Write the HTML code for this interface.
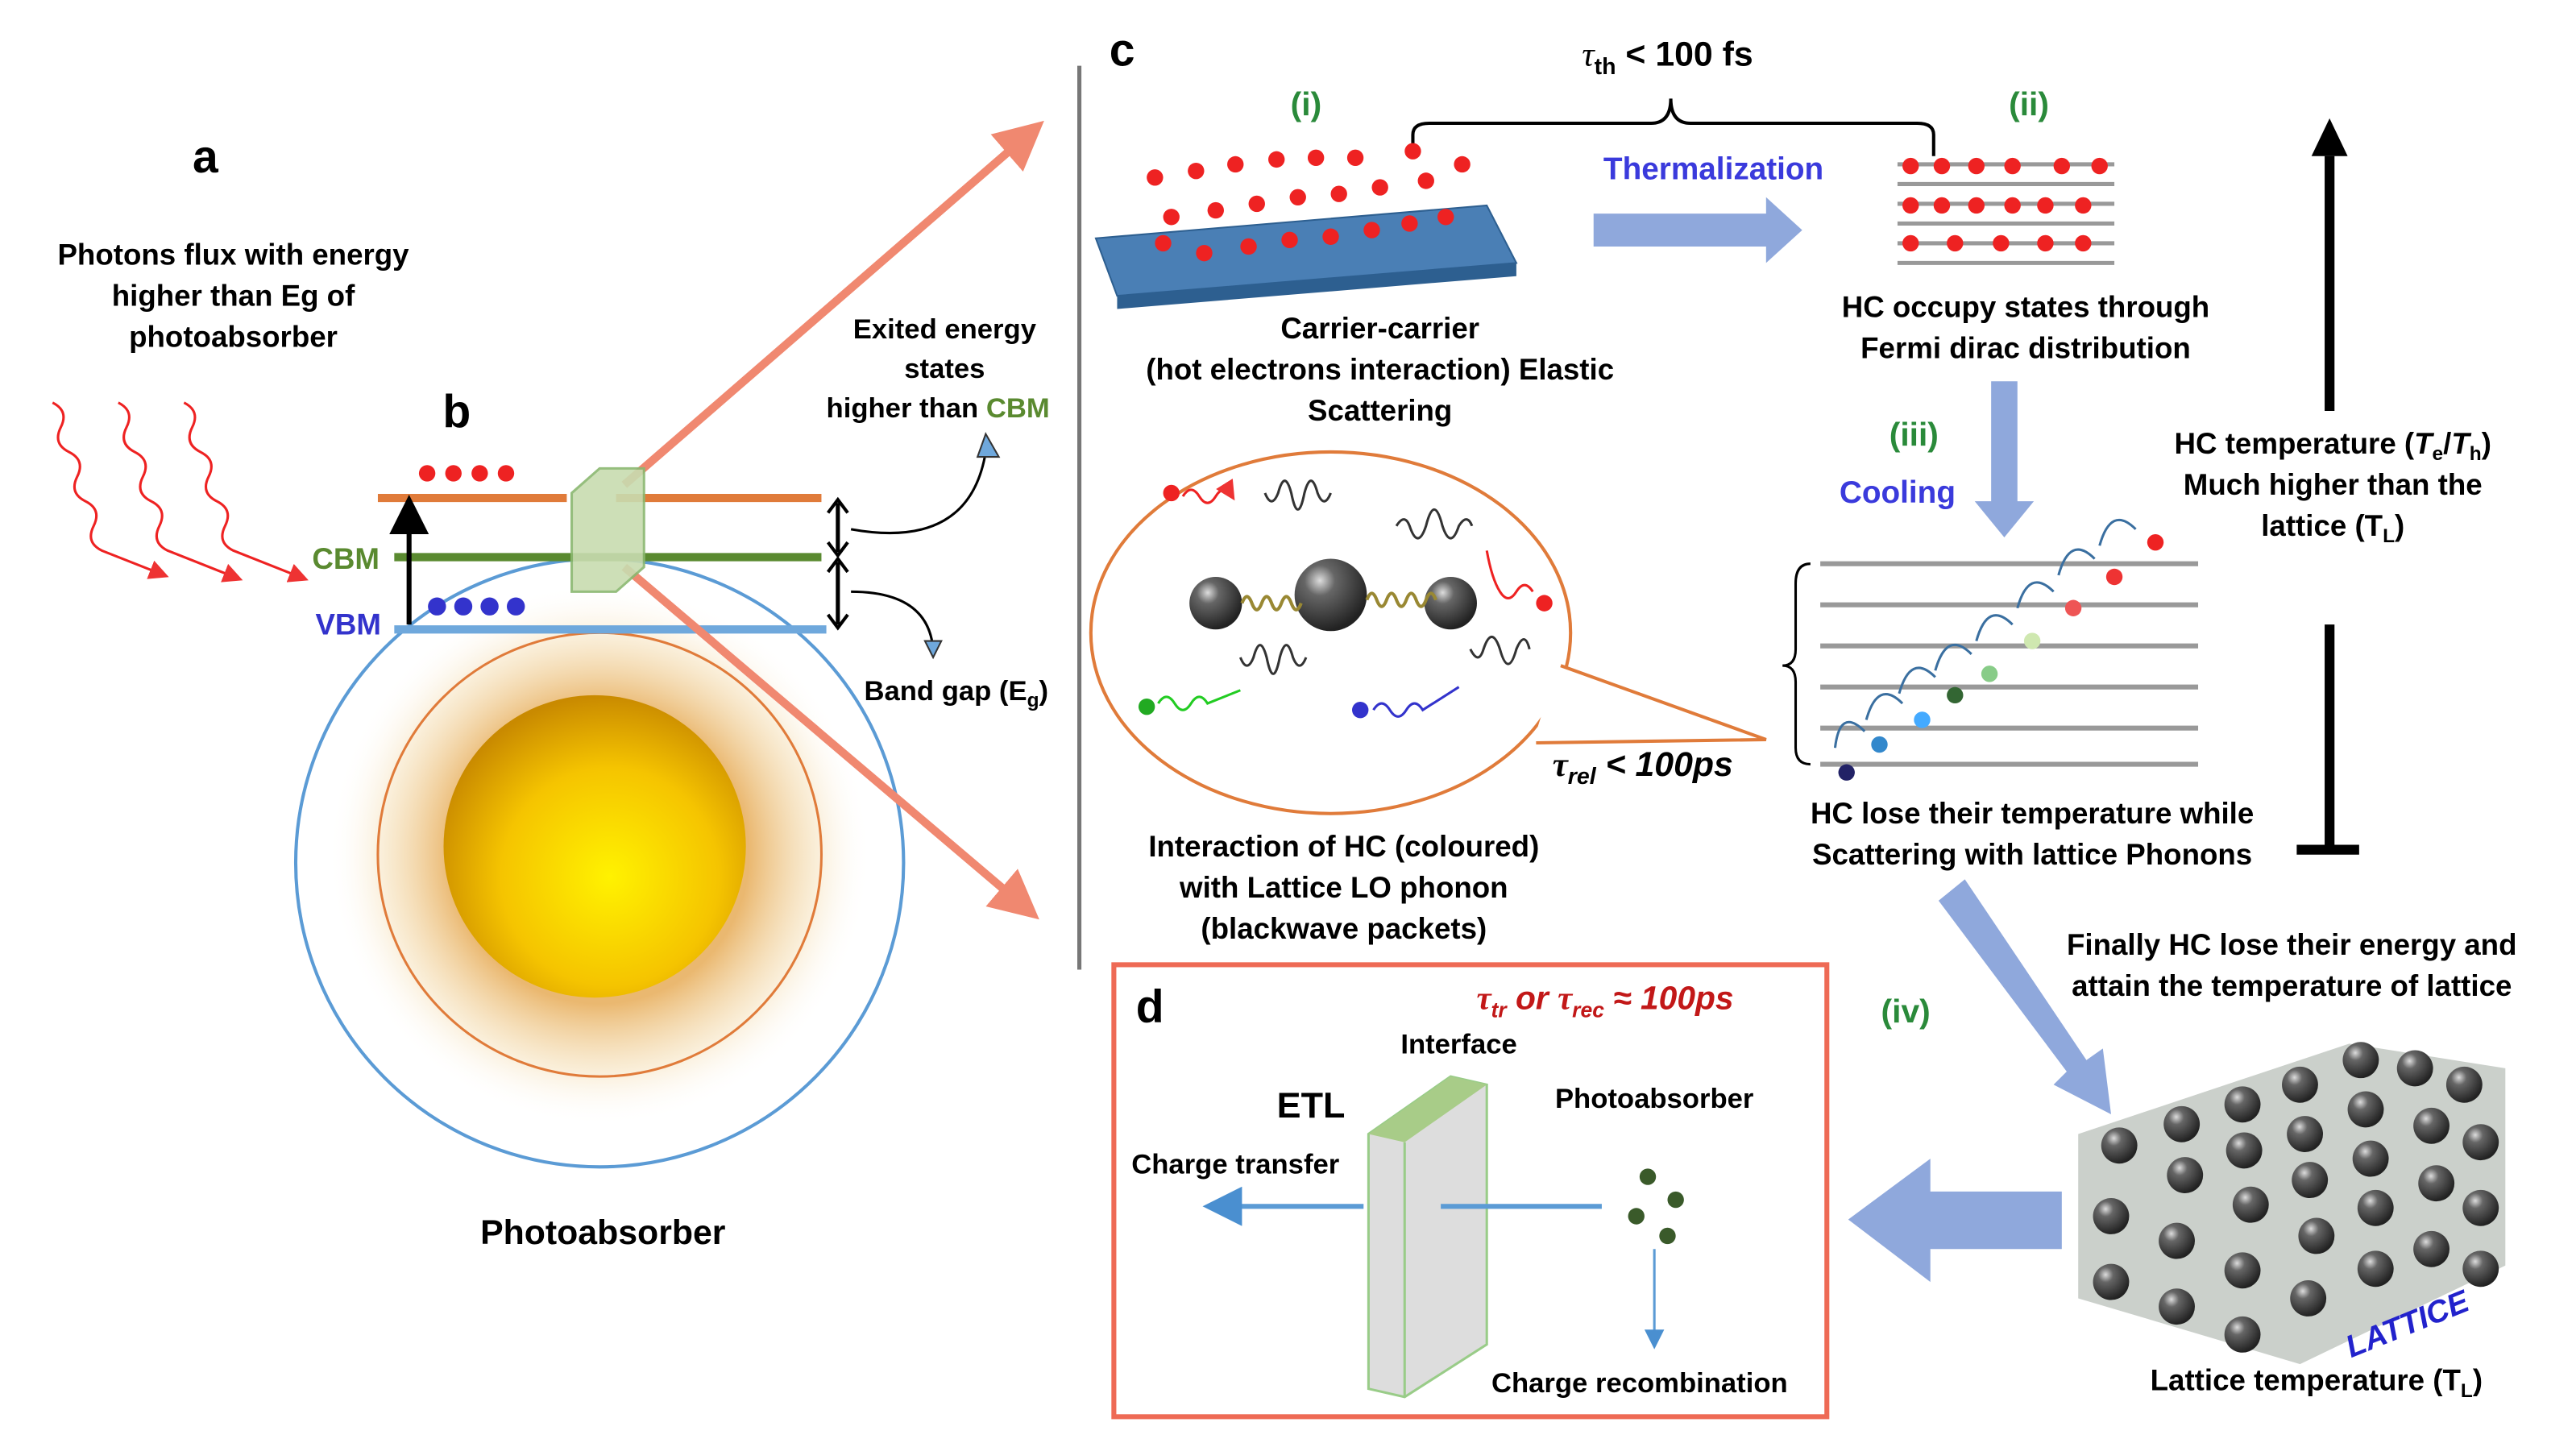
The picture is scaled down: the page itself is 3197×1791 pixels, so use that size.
<!DOCTYPE html>
<html><head><meta charset="utf-8"><style>
html,body{margin:0;padding:0;background:#fff}
svg{display:block}
text{font-family:"Liberation Sans",sans-serif;font-weight:bold}
</style></head><body>
<svg width="3197" height="1791" viewBox="0 0 1568 878" preserveAspectRatio="none" xmlns="http://www.w3.org/2000/svg">
<defs>
<radialGradient id="halo" cx="0.5" cy="0.5" r="0.5">
<stop offset="0.55" stop-color="#e8b060" stop-opacity="0.9"/>
<stop offset="0.8" stop-color="#f3d9a8" stop-opacity="0.45"/>
<stop offset="1" stop-color="#fff" stop-opacity="0"/>
</radialGradient>
<radialGradient id="sun" cx="0.55" cy="0.6" r="0.6">
<stop offset="0" stop-color="#fff200"/>
<stop offset="0.6" stop-color="#f5c400"/>
<stop offset="1" stop-color="#c98a00"/>
</radialGradient>
<radialGradient id="ball" cx="0.35" cy="0.3" r="0.7">
<stop offset="0" stop-color="#ddd"/>
<stop offset="0.3" stop-color="#666"/>
<stop offset="1" stop-color="#222"/>
</radialGradient>
<marker id="ar" markerWidth="8" markerHeight="8" refX="6" refY="4" orient="auto"><path d="M0,0 L8,4 L0,8 z" fill="#e33"/></marker>
<marker id="ab" markerWidth="8" markerHeight="8" refX="6" refY="4" orient="auto"><path d="M0,0 L8,4 L0,8 z" fill="#000"/></marker>
<marker id="abl" markerWidth="8" markerHeight="8" refX="6" refY="4" orient="auto"><path d="M0,0 L8,4 L0,8 z" fill="#4a8fd0"/></marker>
<marker id="as" markerWidth="6" markerHeight="6" refX="4" refY="3" orient="auto"><path d="M0,0 L6,3 L0,6 z" fill="#f08870"/></marker>
</defs>

<text x="125" y="105" font-size="28" text-anchor="middle">a</text>
<text x="142" y="161" font-size="18" text-anchor="middle">Photons flux with energy</text>
<text x="142" y="186" font-size="18" text-anchor="middle">higher than Eg of</text>
<text x="142" y="211" font-size="18" text-anchor="middle">photoabsorber</text>
<g fill="none" stroke="#e22" stroke-width="1.5">
<path d="M32,245 q10,5 5,15 q-5,10 5,15 q10,5 5,15 q-5,10 5,15 q10,5 5,15 q-5,10 5,15 L100,350" marker-end="url(#ar)"/>
<path d="M72,245 q10,5 5,15 q-5,10 5,15 q10,5 5,15 q-5,10 5,15 q10,5 5,15 q-5,10 5,15 L145,352" marker-end="url(#ar)"/>
<path d="M112,245 q10,5 5,15 q-5,10 5,15 q10,5 5,15 q-5,10 5,15 q10,5 5,15 q-5,10 5,15 L185,352" marker-end="url(#ar)"/>
</g>
<text x="278" y="260" font-size="28" text-anchor="middle">b</text>
<circle cx="365" cy="520" r="165" fill="url(#halo)"/>
<circle cx="365" cy="525" r="185" fill="none" stroke="#5b9bd5" stroke-width="2"/>
<circle cx="365" cy="520" r="135" fill="none" stroke="#e07b3a" stroke-width="1.5"/>
<circle cx="362" cy="515" r="92" fill="url(#sun)"/>
<line x1="230" y1="303" x2="345" y2="303" stroke="#e07b3a" stroke-width="5"/>
<line x1="375" y1="303" x2="500" y2="303" stroke="#e07b3a" stroke-width="5"/>
<line x1="240" y1="339" x2="500" y2="339" stroke="#5a8a30" stroke-width="5"/>
<line x1="240" y1="383" x2="503" y2="383" stroke="#6fa8dc" stroke-width="5"/>
<g fill="#e22"><circle cx="260" cy="288" r="5"/><circle cx="276" cy="288" r="5"/><circle cx="292" cy="288" r="5"/><circle cx="308" cy="288" r="5"/></g>
<g fill="#33c"><circle cx="266" cy="369" r="5.5"/><circle cx="282" cy="369" r="5.5"/><circle cx="298" cy="369" r="5.5"/><circle cx="314" cy="369" r="5.5"/></g>
<text x="190" y="346" font-size="18" fill="#5a8a30">CBM</text>
<text x="192" y="386" font-size="18" fill="#33c">VBM</text>
<line x1="249" y1="380" x2="249" y2="307" stroke="#000" stroke-width="3" marker-end="url(#ab)"/>
<line x1="380" y1="295" x2="628" y2="80" stroke="#f08870" stroke-width="5" marker-end="url(#as)"/>
<line x1="380" y1="345" x2="625" y2="553" stroke="#f08870" stroke-width="5" marker-end="url(#as)"/>
<path d="M348,300 L365,285 L392,285 L392,345 L375,360 L348,360 z" fill="#c8dcb0" stroke="#8ab870" stroke-width="1.5" opacity="0.9"/>
<line x1="510" y1="306" x2="510" y2="336" stroke="#000" stroke-width="2.5"/>
<line x1="510" y1="342" x2="510" y2="380" stroke="#000" stroke-width="2.5"/>
<path d="M504,312 L510,304 L516,312 M504,330 L510,338 L516,330 M504,348 L510,340 L516,348 M504,374 L510,382 L516,374" fill="none" stroke="#000" stroke-width="2"/>
<text x="575" y="206" font-size="17" text-anchor="middle">Exited energy</text>
<text x="575" y="230" font-size="17" text-anchor="middle">states</text>
<text x="503" y="254" font-size="17">higher than <tspan fill="#5a8a30">CBM</tspan></text>
<path d="M518,322 Q590,335 600,275" fill="none" stroke="#000" stroke-width="1.5"/>
<path d="M595,278 L600,264 L608,278 z" fill="#6fa8dc" stroke="#333"/>
<path d="M518,360 Q565,360 568,395" fill="none" stroke="#000" stroke-width="1.5"/>
<path d="M563,390 L568,400 L573,390 z" fill="#6fa8dc" stroke="#333"/>
<text x="526" y="426" font-size="17">Band gap (E<tspan font-size="12" dy="4">g</tspan><tspan dy="-4">)</tspan></text>
<text x="367" y="757" font-size="21" text-anchor="middle">Photoabsorber</text>

<line x1="657" y1="40" x2="657" y2="590" stroke="#777" stroke-width="2.5"/>

<text x="683" y="40" font-size="28" text-anchor="middle">c</text>
<text x="795" y="70" font-size="20" fill="#2a8a3a" text-anchor="middle">(i)</text>
<text x="1235" y="70" font-size="20" fill="#2a8a3a" text-anchor="middle">(ii)</text>
<text x="1015" y="40" font-size="21" text-anchor="middle"><tspan font-family="Liberation Serif" font-style="italic" font-weight="normal">τ</tspan><tspan font-size="14" dy="5">th</tspan><tspan dy="-5"> &lt; 100 fs</tspan></text>
<path d="M860,95 L860,82 Q860,75 870,75 L1005,75 Q1017,75 1017,60 Q1017,75 1029,75 L1167,75 Q1177,75 1177,82 L1177,95" fill="none" stroke="#000" stroke-width="2"/>
<path d="M667,145 L905,125 L923,160 L680,180 z" fill="#4a7fb5" stroke="#2d5f90"/>
<path d="M680,180 L923,160 L923,168 L680,188 z" fill="#2d5f90"/>
<g fill="#e22">
<circle cx="703" cy="108" r="5"/><circle cx="728" cy="104" r="5"/><circle cx="752" cy="100" r="5"/><circle cx="777" cy="97" r="5"/><circle cx="801" cy="96" r="5"/><circle cx="825" cy="96" r="5"/><circle cx="860" cy="92" r="5"/><circle cx="890" cy="100" r="5"/>
<circle cx="713" cy="132" r="5"/><circle cx="740" cy="128" r="5"/><circle cx="765" cy="124" r="5"/><circle cx="790" cy="120" r="5"/><circle cx="815" cy="118" r="5"/><circle cx="840" cy="114" r="5"/><circle cx="868" cy="110" r="5"/>
<circle cx="708" cy="148" r="5"/><circle cx="733" cy="154" r="5"/><circle cx="760" cy="150" r="5"/><circle cx="785" cy="146" r="5"/><circle cx="810" cy="144" r="5"/><circle cx="835" cy="140" r="5"/><circle cx="858" cy="136" r="5"/><circle cx="880" cy="132" r="5"/>
</g>
<text x="1043" y="109" font-size="19" fill="#3a3adc" text-anchor="middle">Thermalization</text>
<path d="M970,130 L1075,130 L1075,120 L1097,140 L1075,160 L1075,150 L970,150 z" fill="#8fa8dc"/>
<g stroke="#999" stroke-width="2.5">
<line x1="1155" y1="100" x2="1287" y2="100"/><line x1="1155" y1="112" x2="1287" y2="112"/><line x1="1155" y1="124" x2="1287" y2="124"/><line x1="1155" y1="136" x2="1287" y2="136"/><line x1="1155" y1="148" x2="1287" y2="148"/><line x1="1155" y1="160" x2="1287" y2="160"/>
</g>
<g fill="#e22">
<circle cx="1163" cy="101" r="5"/><circle cx="1182" cy="101" r="5"/><circle cx="1203" cy="101" r="5"/><circle cx="1225" cy="101" r="5"/><circle cx="1255" cy="101" r="5"/><circle cx="1278" cy="101" r="5"/>
<circle cx="1163" cy="125" r="5"/><circle cx="1182" cy="125" r="5"/><circle cx="1203" cy="125" r="5"/><circle cx="1225" cy="125" r="5"/><circle cx="1245" cy="125" r="5"/><circle cx="1268" cy="125" r="5"/>
<circle cx="1163" cy="148" r="5"/><circle cx="1190" cy="148" r="5"/><circle cx="1218" cy="148" r="5"/><circle cx="1245" cy="148" r="5"/><circle cx="1268" cy="148" r="5"/>
</g>
<text x="840" y="206" font-size="18" text-anchor="middle">Carrier-carrier</text>
<text x="840" y="231" font-size="18" text-anchor="middle">(hot electrons interaction) Elastic</text>
<text x="840" y="256" font-size="18" text-anchor="middle">Scattering</text>
<text x="1233" y="193" font-size="18" text-anchor="middle">HC occupy states through</text>
<text x="1233" y="218" font-size="18" text-anchor="middle">Fermi dirac distribution</text>
<path d="M1212,232 L1228,232 L1228,305 L1238,305 L1220,327 L1202,305 L1212,305 z" fill="#8fa8dc"/>
<text x="1165" y="271" font-size="20" fill="#2a8a3a" text-anchor="middle">(iii)</text>
<text x="1155" y="306" font-size="19" fill="#3a3adc" text-anchor="middle">Cooling</text>

<!-- callout -->
<ellipse cx="810" cy="385" rx="146" ry="110" fill="#fff" stroke="#e07b3a" stroke-width="2"/>
<path d="M950,405 L1075,450 L935,452" fill="#fff" stroke="#e07b3a" stroke-width="2"/>
<path d="M949,408 L936,449" stroke="#fff" stroke-width="4"/>
<g fill="#222"><circle cx="740" cy="367" r="16" fill="url(#ball)"/><circle cx="810" cy="362" r="22" fill="url(#ball)"/><circle cx="883" cy="367" r="16" fill="url(#ball)"/></g>
<path d="M756,367 q3,-8 6,0 q3,8 6,0 q3,-8 6,0 q3,8 6,0 q3,-8 6,0 q3,8 6,0 M832,365 q3,-8 6,0 q3,8 6,0 q3,-8 6,0 q3,8 6,0 q3,-8 6,0 q3,8 6,0 q3,-8 6,0" fill="none" stroke="#998833" stroke-width="2"/>
<g fill="none" stroke="#333" stroke-width="1.5">
<path d="M770,300 q4,10 8,0 q4,-15 8,0 q4,20 8,0 q4,-15 8,0 q4,10 8,0"/>
<path d="M850,320 q5,-8 8,0 q5,15 10,0 q5,-20 10,0 q5,15 10,0 q5,-8 8,0"/>
<path d="M755,400 q4,10 8,0 q4,-15 8,0 q4,20 8,0 q4,-15 8,0 q4,10 8,0"/>
<path d="M895,395 q5,10 8,0 q5,-15 10,0 q5,18 10,0 q5,-12 8,0"/>
</g>
<circle cx="713" cy="300" r="5" fill="#e22"/><path d="M720,302 q5,-8 10,0 q5,8 10,0 q5,-8 10,0" fill="none" stroke="#e22" stroke-width="1.5" marker-end="url(#ar)"/>
<circle cx="940" cy="367" r="5" fill="#e22"/><path d="M933,360 q-5,-8 -10,0 q-5,8 -10,0 q-5,-8 -8,-25" fill="none" stroke="#e22" stroke-width="1.5"/>
<circle cx="698" cy="430" r="5" fill="#2a2"/><path d="M705,428 q5,-8 10,0 q5,8 10,0 q5,-8 10,0 L755,420" fill="none" stroke="#2c2" stroke-width="1.5"/>
<circle cx="828" cy="432" r="5" fill="#33c"/><path d="M836,432 q5,-8 10,0 q5,8 10,0 q5,-8 10,0 L888,418" fill="none" stroke="#33c" stroke-width="1.5"/>
<text x="945" y="472" font-size="21" font-style="italic"><tspan font-family="Liberation Serif">τ</tspan><tspan font-size="14" dy="5">rel</tspan><tspan dy="-5"> &lt; 100ps</tspan></text>
<text x="818" y="521" font-size="18" text-anchor="middle">Interaction of HC (coloured)</text>
<text x="818" y="546" font-size="18" text-anchor="middle">with Lattice LO phonon</text>
<text x="818" y="571" font-size="18" text-anchor="middle">(blackwave packets)</text>

<g stroke="#999" stroke-width="3">
<line x1="1108" y1="343" x2="1338" y2="343"/><line x1="1108" y1="368" x2="1338" y2="368"/><line x1="1108" y1="393" x2="1338" y2="393"/><line x1="1108" y1="418" x2="1338" y2="418"/><line x1="1108" y1="443" x2="1338" y2="443"/><line x1="1108" y1="465" x2="1338" y2="465"/>
</g>
<path d="M1102,343 Q1093,343 1093,355 L1093,395 Q1093,405 1085,405 Q1093,405 1093,415 L1093,455 Q1093,465 1102,465" fill="none" stroke="#000" stroke-width="1.5"/>
<g>
<circle cx="1312" cy="330" r="5" fill="#e22"/><circle cx="1287" cy="351" r="5" fill="#e33"/><circle cx="1262" cy="370" r="5" fill="#e55"/><circle cx="1237" cy="390" r="5" fill="#cfe8b0"/><circle cx="1211" cy="410" r="5" fill="#8c8"/><circle cx="1190" cy="423" r="5" fill="#363"/><circle cx="1170" cy="438" r="5" fill="#4af"/><circle cx="1144" cy="453" r="5" fill="#38c"/><circle cx="1124" cy="470" r="5" fill="#226"/>
</g>
<g fill="none" stroke="#3a6fa0" stroke-width="1.5">
<path d="M1300,322 q-15,-15 -22,10"/><path d="M1275,340 q-15,-15 -22,10"/><path d="M1250,360 q-15,-15 -22,10"/><path d="M1225,380 q-15,-15 -22,10"/><path d="M1200,398 q-15,-15 -22,10"/><path d="M1178,412 q-15,-15 -22,10"/><path d="M1158,428 q-15,-15 -22,10"/><path d="M1135,445 q-15,-15 -18,10"/>
</g>
<text x="1237" y="501" font-size="18" text-anchor="middle">HC lose their temperature while</text>
<text x="1237" y="526" font-size="18" text-anchor="middle">Scattering with lattice Phonons</text>

<line x1="1418" y1="250" x2="1418" y2="95" stroke="#000" stroke-width="6"/>
<path d="M1407,95 L1418,72 L1429,95 z" fill="#000"/>
<text x="1420" y="276" font-size="18" text-anchor="middle">HC temperature (<tspan font-style="italic">T</tspan><tspan font-size="12" dy="4">e</tspan><tspan dy="-4">/</tspan><tspan font-style="italic">T</tspan><tspan font-size="12" dy="4">h</tspan><tspan dy="-4">)</tspan></text>
<text x="1420" y="301" font-size="18" text-anchor="middle">Much higher than the</text>
<text x="1420" y="326" font-size="18" text-anchor="middle">lattice (T<tspan font-size="12" dy="4">L</tspan><tspan dy="-4">)</tspan></text>
<line x1="1418" y1="380" x2="1418" y2="515" stroke="#000" stroke-width="6"/>
<line x1="1398" y1="517" x2="1436" y2="517" stroke="#000" stroke-width="6"/>

<path d="M1180,548 L1196,535 L1270,645 L1280,638 L1285,678 L1250,660 L1258,652 z" fill="#8fa8dc"/>
<text x="1160" y="622" font-size="20" fill="#2a8a3a" text-anchor="middle">(iv)</text>
<text x="1395" y="581" font-size="18" text-anchor="middle">Finally HC lose their energy and</text>
<text x="1395" y="606" font-size="18" text-anchor="middle">attain the temperature of lattice</text>

<path d="M1265,690 L1430,635 L1525,650 L1525,770 L1400,830 L1265,790 z" fill="#b9c0b9" opacity="0.75"/>
<g>
<circle cx="1437" cy="645" r="11" fill="url(#ball)"/><circle cx="1470" cy="650" r="11" fill="url(#ball)"/><circle cx="1500" cy="660" r="11" fill="url(#ball)"/>
<circle cx="1400" cy="660" r="11" fill="url(#ball)"/><circle cx="1440" cy="675" r="11" fill="url(#ball)"/><circle cx="1480" cy="685" r="11" fill="url(#ball)"/><circle cx="1510" cy="695" r="11" fill="url(#ball)"/>
<circle cx="1365" cy="672" r="11" fill="url(#ball)"/><circle cx="1403" cy="690" r="11" fill="url(#ball)"/><circle cx="1443" cy="705" r="11" fill="url(#ball)"/><circle cx="1483" cy="720" r="11" fill="url(#ball)"/><circle cx="1510" cy="735" r="11" fill="url(#ball)"/>
<circle cx="1328" cy="684" r="11" fill="url(#ball)"/><circle cx="1366" cy="700" r="11" fill="url(#ball)"/><circle cx="1406" cy="718" r="11" fill="url(#ball)"/><circle cx="1446" cy="735" r="11" fill="url(#ball)"/><circle cx="1480" cy="760" r="11" fill="url(#ball)"/><circle cx="1510" cy="772" r="11" fill="url(#ball)"/>
<circle cx="1290" cy="697" r="11" fill="url(#ball)"/><circle cx="1330" cy="715" r="11" fill="url(#ball)"/><circle cx="1370" cy="733" r="11" fill="url(#ball)"/><circle cx="1410" cy="752" r="11" fill="url(#ball)"/><circle cx="1446" cy="772" r="11" fill="url(#ball)"/>
<circle cx="1285" cy="740" r="11" fill="url(#ball)"/><circle cx="1325" cy="755" r="11" fill="url(#ball)"/><circle cx="1365" cy="773" r="11" fill="url(#ball)"/><circle cx="1405" cy="790" r="11" fill="url(#ball)"/>
<circle cx="1285" cy="780" r="11" fill="url(#ball)"/><circle cx="1325" cy="795" r="11" fill="url(#ball)"/><circle cx="1365" cy="812" r="11" fill="url(#ball)"/>
</g>
<text x="1465" y="812" font-size="19" fill="#2222cc" font-style="italic" text-anchor="middle" transform="rotate(-22 1465 805)">LATTICE</text>
<text x="1410" y="846" font-size="18" text-anchor="middle">Lattice temperature (T<tspan font-size="12" dy="4">L</tspan><tspan dy="-4">)</tspan></text>

<path d="M1255,725 L1175,725 L1175,705 L1125,742 L1175,780 L1175,760 L1255,760 z" fill="#8fa8dc"/>

<rect x="678" y="587" width="434" height="275" fill="none" stroke="#ee6a55" stroke-width="3"/>
<text x="700" y="622" font-size="28" text-anchor="middle">d</text>
<text x="977" y="614" font-size="20" fill="#c21818" font-style="italic" text-anchor="middle"><tspan font-family="Liberation Serif">τ</tspan><tspan font-size="13" dy="5">tr</tspan><tspan dy="-5"> or </tspan><tspan font-family="Liberation Serif">τ</tspan><tspan font-size="13" dy="5">rec</tspan><tspan dy="-5"> ≈ 100ps</tspan></text>
<text x="888" y="641" font-size="17" text-anchor="middle">Interface</text>
<text x="798" y="680" font-size="22" text-anchor="middle">ETL</text>
<text x="1007" y="674" font-size="17" text-anchor="middle">Photoabsorber</text>
<text x="752" y="714" font-size="17" text-anchor="middle">Charge transfer</text>
<path d="M833,690 L883,655 L905,660 L905,818 L855,850 L833,845 z" fill="#ddd" stroke="#9c8" stroke-width="1.5"/>
<path d="M833,690 L883,655 L905,660 L855,695 z" fill="#a8cc88"/>
<line x1="855" y1="695" x2="855" y2="850" stroke="#9c8" stroke-width="1.5"/>
<line x1="975" y1="734" x2="877" y2="734" stroke="#5b9bd5" stroke-width="3"/>
<line x1="830" y1="734" x2="738" y2="734" stroke="#5b9bd5" stroke-width="3" marker-end="url(#abl)"/>
<g fill="#3a5a2a"><circle cx="1003" cy="716" r="5"/><circle cx="1020" cy="730" r="5"/><circle cx="996" cy="740" r="5"/><circle cx="1015" cy="752" r="5"/></g>
<line x1="1007" y1="760" x2="1007" y2="818" stroke="#5b9bd5" stroke-width="1.5" marker-end="url(#abl)"/>
<text x="998" y="847" font-size="17" text-anchor="middle">Charge recombination</text>
</svg>
</body></html>
